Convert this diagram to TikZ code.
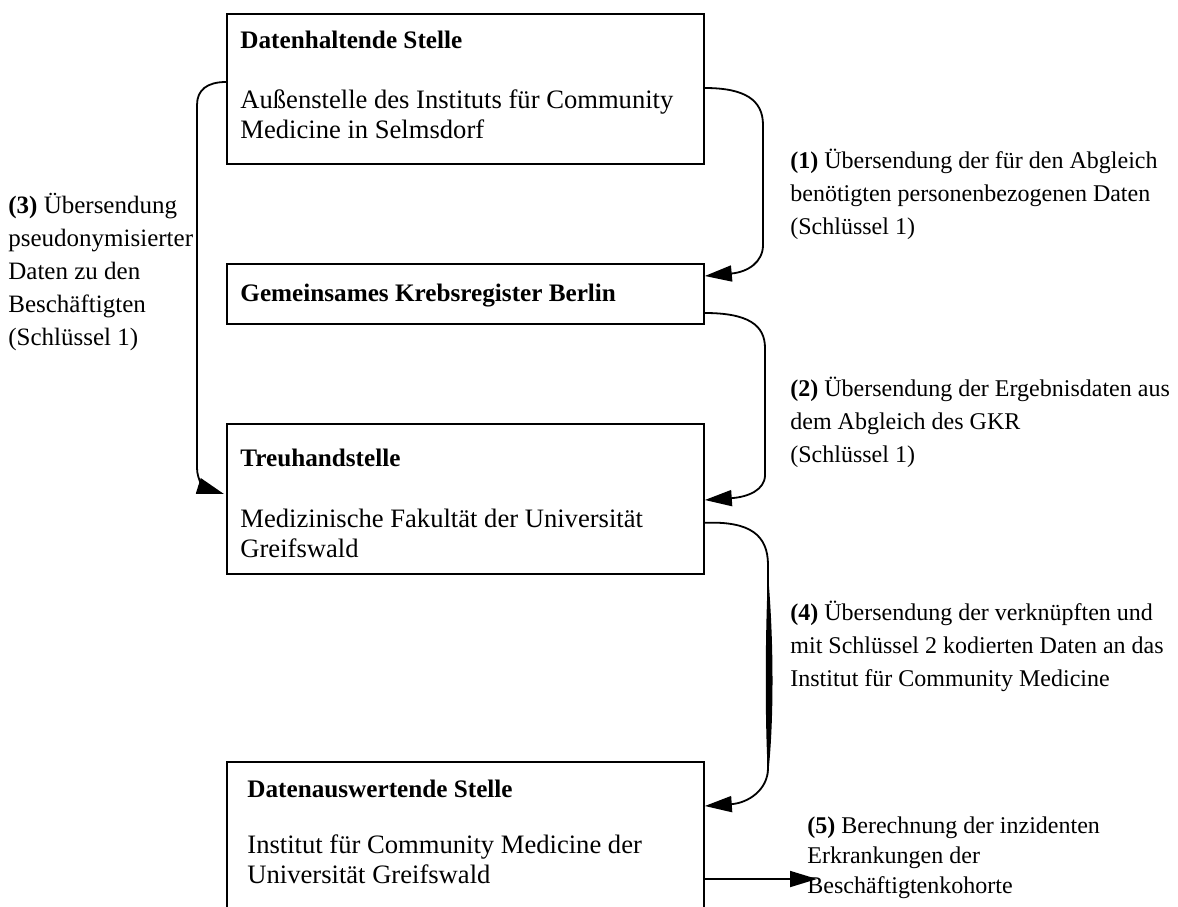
\documentclass[tikz,border=0pt]{standalone}
\usepackage{fontspec}
\setmainfont{Liberation Serif}
\usetikzlibrary{arrows.meta,calc}
\begin{document}
\begin{tikzpicture}[x=0.5pt,y=-0.5pt,
  box/.style={draw, line width=0.9pt, inner sep=0pt, anchor=north west, minimum width=238.5pt},
  con/.style={line width=0.9pt},
  tip/.style={-{Triangle[length=13.5pt,width=8pt]}},
  btxt/.style={anchor=base west, inner sep=0pt, font=\fontsize{13.3}{15}\selectfont},
  bttl/.style={anchor=base west, inner sep=0pt, font=\fontsize{12.6}{15}\selectfont\bfseries},
  lbl/.style={anchor=base west, inner sep=0pt, font=\fontsize{12}{16.5}\selectfont},
  lblc/.style={anchor=base west, inner sep=0pt, font=\fontsize{12.5}{16.5}\selectfont},
  lbls/.style={anchor=base west, inner sep=0pt, font=\fontsize{12}{15}\selectfont},
]
\useasboundingbox (0,0) rectangle (1178,906);

% boxes
\node[box, minimum height=75pt] (b1) at (226,13) {};
\node[box, minimum height=30pt] (b2) at (226,263) {};
\node[box, minimum height=75pt] (b3) at (226,423) {};
\node[box, minimum height=75pt] (b4) at (226,761) {};

% box texts
\node[bttl] (t1a) at (240,48) {Datenhaltende Stelle};
\node[btxt] (t1b) at (240,108) {Außenstelle des Instituts für Community};
\node[btxt] (t1c) at (240,138) {Medicine in Selmsdorf};
\node[bttl] (t2a) at (240,301) {Gemeinsames Krebsregister Berlin};
\node[bttl] (t3a) at (240,466) {Treuhandstelle};
\node[btxt] (t3b) at (240,527) {Medizinische Fakultät der Universität};
\node[btxt] (t3c) at (240,557) {Greifswald};
\node[bttl] (t4a) at (247,797) {Datenauswertende Stelle};
\node[btxt] (t4b) at (247,853) {Institut für Community Medicine der};
\node[btxt] (t4c) at (247,883) {Universität Greifswald};

% connector 1
\draw[con,tip] ($(b1.north east)+(0,75)$) .. controls (745,88) and (763,100) .. (763,125)
  -- (763,245) .. controls (763,262) and (748,272) .. ($(b2.north east)+(0,13)$);
% connector 2
\draw[con,tip] ($(b2.north east)+(0,50)$) .. controls (748,313) and (765,325) .. (765,348)
  -- (765,475) .. controls (765,490) and (748,497) .. ($(b3.north east)+(0,77)$);
% connector 3
\draw[con,tip] ($(b1.north west)+(0,69)$) .. controls (207,82) and (197,90) .. (197,105)
  -- (197,468) .. controls (197,480) and (205,488) .. ($(b3.north west)+(-2,71)$);
% connector 4
\draw[con,tip] ($(b3.south east)+(0,-52)$) .. controls (750,521) and (768,535) .. (768,565)
  -- (768,768) .. controls (768,790) and (748,803) .. ($(b4.north east)+(0,45)$);
\fill (768,575) .. controls (774,640) and (774,725) .. (768,775)
  .. controls (765,725) and (765,640) .. (768,575) -- cycle;
% connector 5
\coordinate (e5) at (817,879);
\draw[con,tip] ($(b4.north east)+(0,118)$) -- (e5);

% labels
\node[lbl] (l1) at (790,168) {\vtop{\hbox{\textbf{(1)} Übersendung der für den Abgleich}\hbox{benötigten personenbezogenen Daten}\hbox{(Schlüssel 1)}}};
\node[lbl] (l2) at (790,396) {\vtop{\hbox{\textbf{(2)} Übersendung der Ergebnisdaten aus}\hbox{dem Abgleich des GKR}\hbox{(Schlüssel 1)}}};
\node[lblc] (l3) at (8,213) {\vtop{\hbox{\textbf{(3)} Übersendung}\hbox{pseudonymisierter}\hbox{Daten zu den}\hbox{Beschäftigten}\hbox{(Schlüssel 1)}}};
\node[lbl] (l4) at (790,620) {\vtop{\hbox{\textbf{(4)} Übersendung der verknüpften und}\hbox{mit Schlüssel 2 kodierten Daten an das}\hbox{Institut für Community Medicine}}};
\node[lbls] (l5) at (807,833) {\vtop{\hbox{\textbf{(5)} Berechnung der inzidenten}\hbox{Erkrankungen der}\hbox{Beschäftigtenkohorte}}};
\end{tikzpicture}
\end{document}
